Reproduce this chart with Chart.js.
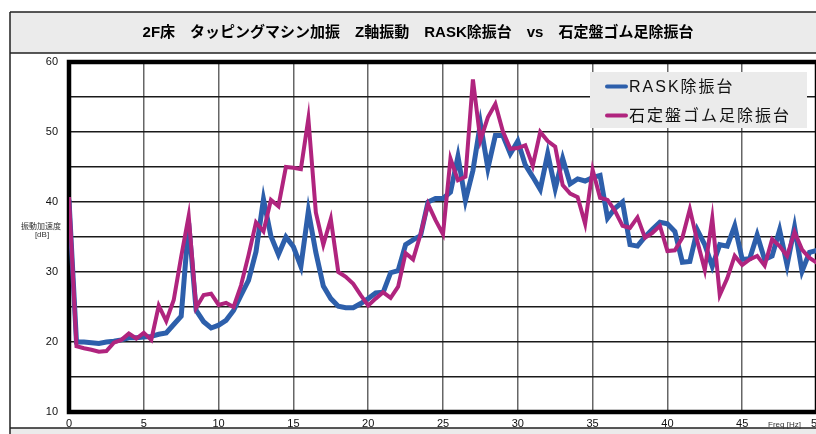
<!DOCTYPE html>
<html><head><meta charset="utf-8">
<script src="https://cdn.jsdelivr.net/npm/chart.js@4.4.0/dist/chart.umd.min.js"></script>
<style>
html,body{margin:0;padding:0;overflow:hidden;background:#fff;width:816px;height:434px}
#wrap{position:relative;width:840px;height:434px}
canvas{display:block}
</style></head>
<body><div id="wrap"><canvas id="c" width="840" height="434" style="width:840px;height:434px"></canvas></div>
<script>
const freq = [0,0.5,1,1.5,2,2.5,3,3.5,4,4.5,5,5.5,6,6.5,7,7.5,8,8.5,9,9.5,10,10.5,11,11.5,12,12.5,13,13.5,14,14.5,15,15.5,16,16.5,17,17.5,18,18.5,19,19.5,20,20.5,21,21.5,22,22.5,23,23.5,24,24.5,25,25.5,26,26.5,27,27.5,28,28.5,29,29.5,30,30.5,31,31.5,32,32.5,33,33.5,34,34.5,35,35.5,36,36.5,37,37.5,38,38.5,39,39.5,40,40.5,41,41.5,42,42.5,43,43.5,44,44.5,45,45.5,46,46.5,47,47.5,48,48.5,49,49.5,50];
const rask = [40.3,20.0,20.0,19.9,19.8,20.0,20.1,20.3,20.6,20.6,20.7,20.8,21.1,21.3,22.5,23.7,37.0,24.5,22.9,22.0,22.4,23.1,24.5,26.7,28.8,32.9,40.4,35.1,32.5,35.0,33.6,30.8,38.7,32.8,28.0,26.2,25.1,24.9,24.9,25.5,26.2,27.0,27.1,29.9,30.2,33.9,34.6,35.2,40.0,40.5,40.5,41.4,46.5,40.2,44.5,51.2,44.8,49.5,49.5,46.9,48.7,45.3,43.6,41.8,46.9,41.9,46.2,42.6,43.3,43.0,43.5,43.8,37.7,39.1,40.0,33.9,33.7,35.0,36.1,37.1,36.9,35.8,31.4,31.5,36.0,33.9,30.8,33.9,33.7,36.6,31.8,31.9,35.3,31.8,32.3,36.0,31.0,36.4,30.1,32.8,33.1];
const ishi = [40.7,19.4,19.1,18.9,18.6,18.7,19.9,20.3,21.2,20.5,21.3,20.3,25.2,23.0,26.0,32.2,38.0,24.9,26.7,26.9,25.3,25.6,25.0,28.1,32.4,37.1,35.8,40.3,39.4,45.0,44.9,44.7,51.9,38.5,33.9,37.6,30.0,29.3,28.3,26.7,25.2,26.2,27.1,26.3,27.9,32.7,31.8,35.4,39.7,37.4,35.4,46.2,43.1,43.6,57.5,48.8,52.1,54.0,50.1,47.6,47.7,48.1,45.2,50.0,48.7,47.9,42.4,41.2,40.7,36.9,44.6,40.6,40.3,38.7,36.6,36.3,37.8,34.9,35.6,36.6,33.0,33.1,34.9,39.0,34.4,30.3,37.7,26.7,29.1,32.3,31.0,31.8,32.3,30.9,34.7,33.7,32.3,35.7,33.2,32.0,31.3];
const seriesNames = ['RASK除振台', '石定盤ゴム足除振台'];
const seriesColors = ['#2d5fab', '#b0247e'];
const xTickLabels = [0,5,10,15,20,25,30,35,40,45,50];
const yTickLabels = [10,20,30,40,50,60];
const chartTitle = '2F床　タッピングマシン加振　Z軸振動　RASK除振台　vs　石定盤ゴム足除振台';
const yAxisTitle = ['振動加速度', '[dB]'];
const xAxisTitle = 'Freq [Hz]';

const toXY = arr => freq.map((f, i) => ({x: f, y: arr[i]}));

const framePlugin = {
  id: 'frame',
  beforeDraw(chart) {
    const ctx = chart.ctx, W = chart.width, H = chart.height;
    ctx.save();
    ctx.fillStyle = '#ffffff';
    ctx.fillRect(0, 0, W, H);
    ctx.fillStyle = '#ebebeb';
    ctx.fillRect(10, 12, W - 10, 41);
    ctx.fillRect(10, 428, W - 10, H - 428);
    ctx.strokeStyle = '#222';
    ctx.lineWidth = 1.5;
    ctx.beginPath();
    ctx.moveTo(10, 12); ctx.lineTo(W, 12);
    ctx.moveTo(10, 53); ctx.lineTo(W, 53);
    ctx.moveTo(10, 12); ctx.lineTo(10, H);
    ctx.moveTo(10, 428); ctx.lineTo(W, 428);
    ctx.stroke();
    ctx.fillStyle = '#000';
    ctx.font = 'bold 15px "Liberation Sans", "Noto Sans CJK JP", sans-serif';
    ctx.textAlign = 'center';
    ctx.textBaseline = 'middle';
    ctx.fillText(chartTitle, 418, 33);
    ctx.restore();
  },
  beforeDatasetsDraw(chart) {
    const ctx = chart.ctx, a = chart.chartArea;
    ctx.save();
    ctx.strokeStyle = '#000';
    ctx.lineWidth = 4.5;
    ctx.strokeRect(a.left, a.top, a.right - a.left, a.bottom - a.top);
    ctx.restore();
  },
  afterDatasetsDraw(chart) {
    const ctx = chart.ctx;
    ctx.save();
    ctx.fillStyle = '#ebebeb';
    ctx.fillRect(590, 72, 217, 56);
    const ys = [86.5, 115.5];
    chart.data.datasets.forEach((ds, i) => {
      ctx.strokeStyle = ds.borderColor;
      ctx.lineWidth = 4;
      ctx.lineCap = 'round';
      ctx.beginPath();
      ctx.moveTo(607, ys[i]); ctx.lineTo(626, ys[i]);
      ctx.stroke();
      ctx.fillStyle = '#111';
      ctx.font = '16px "Liberation Sans", "Noto Sans CJK JP", sans-serif';
      try { ctx.letterSpacing = '2px'; } catch(e) {}
      ctx.textAlign = 'left';
      ctx.textBaseline = 'middle';
      ctx.fillText(ds.label, 629, ys[i] + 1);
    });
    ctx.restore();
  },
  afterDraw(chart) {
    const ctx = chart.ctx;
    ctx.save();
    ctx.fillStyle = '#333';
    ctx.font = '8px "Liberation Sans", "Noto Sans CJK JP", sans-serif';
    ctx.textAlign = 'center';
    ctx.textBaseline = 'middle';
    ctx.fillText(yAxisTitle[0], 41, 227);
    ctx.fillText(yAxisTitle[1], 42, 235);
    ctx.textAlign = 'left';
    ctx.fillText(xAxisTitle, 768, 425);
    ctx.restore();
  }
};

new Chart(document.getElementById('c'), {
  type: 'line',
  data: {
    datasets: [
      {label: seriesNames[0], data: toXY(rask), borderColor: seriesColors[0], borderWidth: 5, order: 2},
      {label: seriesNames[1], data: toXY(ishi), borderColor: seriesColors[1], borderWidth: 4, order: 1}
    ]
  },
  options: {
    responsive: false,
    animation: false,
    devicePixelRatio: 1,
    layout: {padding: {top: 62, right: 23, bottom: 0, left: 0}},
    elements: {point: {radius: 0}, line: {tension: 0, fill: false}},
    plugins: {legend: {display: false}, title: {display: false}, tooltip: {enabled: false}},
    scales: {
      x: {
        type: 'linear', min: 0, max: 50,
        afterFit(s) { s.height = 22; },
        ticks: {stepSize: 5, padding: 5, color: '#111', font: {family: '"Liberation Sans", sans-serif', size: 11},
          maxRotation: 0, autoSkip: false,
          callback: v => xTickLabels.includes(v) ? String(v) : ''},
        grid: {color: '#666', lineWidth: 1.5, drawTicks: false},
        border: {display: false}
      },
      y: {
        min: 10, max: 60,
        afterFit(s) { s.width = 69; },
        ticks: {stepSize: 5, padding: 11, color: '#111', font: {family: '"Liberation Sans", sans-serif', size: 11},
          autoSkip: false,
          callback: v => yTickLabels.includes(v) ? String(v) : ''},
        grid: {color: '#1a1a1a', lineWidth: 1.5, drawTicks: false},
        border: {display: false}
      }
    }
  },
  plugins: [framePlugin]
});
</script>
</body></html>
